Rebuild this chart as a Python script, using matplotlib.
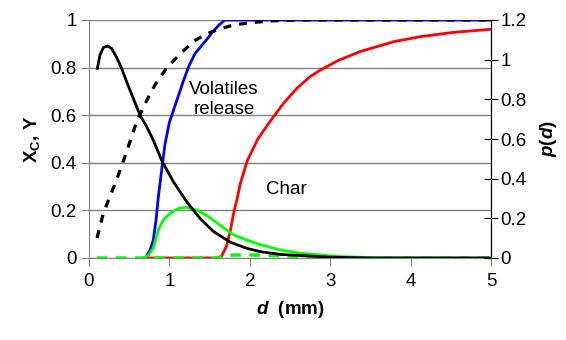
import matplotlib
matplotlib.use('Agg')
import matplotlib.pyplot as plt
from matplotlib.ticker import FuncFormatter

plt.rcParams['font.family'] = 'Liberation Sans'
plt.rcParams['mathtext.fontset'] = 'custom'
plt.rcParams['mathtext.rm'] = 'Liberation Sans'
plt.rcParams['mathtext.it'] = 'Liberation Sans:italic'
plt.rcParams['mathtext.bf'] = 'Liberation Sans:bold'
plt.rcParams['mathtext.bfit'] = 'Liberation Sans:bold:italic'

# size distribution p(d), right axis
d_pd = [0.104, 0.137, 0.178, 0.232, 0.28, 0.34, 0.406, 0.468, 0.55, 0.635, 0.72, 0.80, 0.904,
        1.05, 1.215, 1.38, 1.55, 1.76, 1.96, 2.13, 2.38, 2.75, 3.0, 3.5, 5.0]
pd_vals = [0.956, 1.024, 1.061, 1.069, 1.057, 1.015, 0.956, 0.889, 0.805, 0.72, 0.66, 0.594, 0.492,
           0.384, 0.284, 0.20, 0.133, 0.079, 0.049, 0.032, 0.018, 0.01, 0.004, 0.0, 0.0]

# cumulative distribution (dashed black)
d_cum = [0.10, 0.18, 0.345, 0.43, 0.51, 0.593, 0.70, 0.82, 0.97, 1.14, 1.31, 1.45, 1.59, 1.8, 2.05, 2.3, 2.6, 5.0]
cum = [0.084, 0.19, 0.33, 0.41, 0.489, 0.573, 0.65, 0.727, 0.80, 0.86, 0.912, 0.94, 0.958, 0.98, 0.99, 0.997, 1.0, 1.0]

# volatiles release (blue)
d_vol = [0.70, 0.76, 0.80, 0.834, 0.863, 0.904, 0.946, 1.0, 1.09, 1.17, 1.24, 1.32, 1.46, 1.55, 1.62, 1.69, 5.0]
vol = [0.0, 0.034, 0.076, 0.16, 0.258, 0.37, 0.48, 0.57, 0.66, 0.74, 0.805, 0.86, 0.916, 0.955, 0.98, 1.0, 1.0]

# char burnout (red)
d_char = [0.70, 1.60, 1.65, 1.71, 1.76, 1.80, 1.85, 1.88, 1.97, 2.10, 2.25, 2.42, 2.585, 2.75, 2.88,
          3.1, 3.37, 3.79, 4.12, 4.53, 5.0]
char = [0.0, 0.0, 0.008, 0.05, 0.118, 0.19, 0.26, 0.31, 0.41, 0.50, 0.573, 0.65, 0.713, 0.762, 0.79,
        0.83, 0.867, 0.909, 0.93, 0.948, 0.961]

# green solid
d_gs = [0.68, 0.74, 0.80, 0.863, 0.925, 1.01, 1.11, 1.215, 1.34, 1.485, 1.63, 1.80, 1.96, 2.13,
        2.38, 2.63, 2.88, 3.1, 3.5, 5.0]
gs = [0.0, 0.012, 0.041, 0.118, 0.16, 0.188, 0.208, 0.213, 0.202, 0.174, 0.138, 0.097, 0.076, 0.056,
      0.034, 0.02, 0.013, 0.006, 0.002, 0.0]

# green dashed
d_gd = [0.10, 1.60, 1.75, 2.0, 2.4, 2.8, 3.2, 5.0]
gd = [0.0, 0.0, 0.012, 0.013, 0.01, 0.005, 0.0, 0.0]

fig = plt.figure(figsize=(5.66, 3.4), dpi=100)
ax = fig.add_axes([89/566, 82/340, 402/566, 238/340])
ax2 = ax.twinx()

grey = '#808080'
ax.grid(axis='y', color=grey, lw=1)
ax.set_axisbelow(True)

ax.plot(d_char, char, color='#ff0000', lw=2)
ax.plot(d_vol, vol, color='#0000ff', lw=2)
ax.plot(d_gs, gs, color='#00ff00', lw=2)
ax.plot(d_gd, gd, color='#00ff00', lw=2.5, dashes=(3, 2.5))
ax.plot(d_cum, cum, color='black', lw=2.3, dashes=(2.5, 2.5))
ax2.plot(d_pd, pd_vals, color='black', lw=2)

ax.set_xlim(0, 5)
ax.set_ylim(0, 1)
ax2.set_ylim(0, 1.2)
ax.set_xticks([0, 1, 2, 3, 4, 5])
ax.set_yticks([0, 0.2, 0.4, 0.6, 0.8, 1.0])
ax2.set_yticks([0, 0.2, 0.4, 0.6, 0.8, 1.0, 1.2])
fmt = FuncFormatter(lambda v, p: ('%g' % round(v, 2)))
ax.yaxis.set_major_formatter(fmt)
ax2.yaxis.set_major_formatter(fmt)

for a in (ax, ax2):
    a.spines['top'].set_visible(False)
ax.spines['left'].set_color(grey)
ax.spines['bottom'].set_color(grey)
ax2.spines['left'].set_visible(False)
ax2.spines['bottom'].set_visible(False)
ax2.spines['right'].set_color('black')

ax.tick_params(axis='y', direction='out', length=6, color=grey, labelsize=13.5, pad=3)
ax.tick_params(axis='x', direction='out', length=6, color=grey, labelsize=13.5, pad=5)
ax2.tick_params(axis='y', direction='inout', length=10, color='black', labelsize=13.5, pad=2)

ax.text(1.68, 0.665, 'Volatiles\nrelease', ha='center', va='center', fontsize=13.5, linespacing=1.2)
ax.text(2.45, 0.286, 'Char', ha='center', va='center', fontsize=13.5)

ax.set_xlabel(r'$\mathbfit{d}$  (mm)', fontsize=13.5, fontweight='bold', labelpad=6)
ax.set_ylabel(r'$\mathbf{X}_{\mathbf{C}}$, $\mathbf{Y}$', fontsize=13.5, fontweight='bold', labelpad=6)
ax2.set_ylabel(r'$\mathbfit{p}$($\mathbfit{d}$)', fontsize=13.5, fontweight='bold', labelpad=8)

fig.savefig('out.png', dpi=100)
